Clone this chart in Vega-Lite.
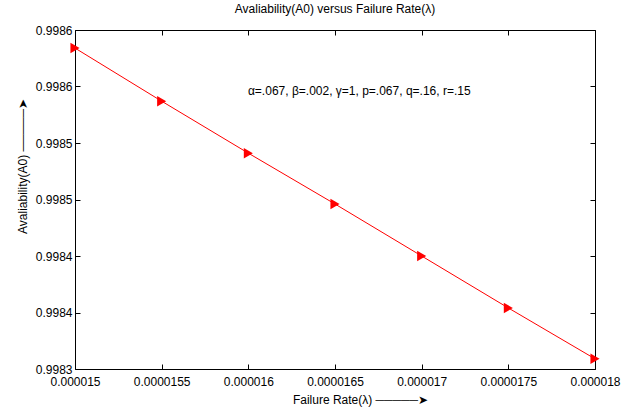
{
  "$schema": "https://vega.github.io/schema/vega-lite/v6.json",
  "autosize": "none",
  "padding": {"left": 75, "top": 30, "right": 40, "bottom": 41},
  "width": 520,
  "height": 339,
  "background": "white",
  "config": {
    "font": "Liberation Sans",
    "view": {"stroke": "black", "strokeWidth": 1},
    "axis": {
      "grid": false,
      "domain": false,
      "ticks": true,
      "tickColor": "black",
      "tickOpacity": 1,
      "tickSize": 5,
      "tickWidth": 1,
      "labelFlush": false,
      "labelFont": "Liberation Sans",
      "labelFontSize": 12,
      "labelColor": "black",
      "titleFont": "Liberation Sans",
      "titleFontSize": 12,
      "titleFontWeight": "normal",
      "titleColor": "black"
    }
  },
  "title": {
    "text": "Avaliability(A0) versus Failure Rate(λ)",
    "font": "Liberation Sans",
    "fontSize": 12,
    "fontWeight": "normal",
    "color": "black",
    "anchor": "middle",
    "offset": 8
  },
  "datasets": {
    "avail": [
      {"rate": 0.0000150, "A0": 0.998584},
      {"rate": 0.0000155, "A0": 0.998537},
      {"rate": 0.0000160, "A0": 0.998491},
      {"rate": 0.0000165, "A0": 0.998446},
      {"rate": 0.0000170, "A0": 0.998400},
      {"rate": 0.0000175, "A0": 0.998354},
      {"rate": 0.0000180, "A0": 0.998309}
    ],
    "note": [
      {"rate": 0.00001664, "A0": 0.998546, "label": "α=.067, β=.002, γ=1, p=.067, q=.16, r=.15"}
    ]
  },
  "resolve": {"axis": {"x": "independent", "y": "independent"}},
  "layer": [
    {
      "data": {"name": "avail"},
      "mark": {"type": "line", "color": "#ff0000", "strokeWidth": 1, "clip": false},
      "encoding": {
        "x": {
          "field": "rate",
          "type": "quantitative",
          "scale": {"domain": [0.000015, 0.000018], "nice": false, "zero": false},
          "axis": {
            "values": [0.000015, 0.0000155, 0.000016, 0.0000165, 0.000017, 0.0000175, 0.000018],
            "format": ".7~f",
            "ticks": false,
            "labelPadding": 7,
            "title": "Failure Rate(λ)   ─────➤",
            "titleX": 285,
            "titlePadding": 7
          }
        },
        "y": {
          "field": "A0",
          "type": "quantitative",
          "scale": {"domain": [0.9983, 0.9986], "nice": false, "zero": false},
          "axis": {
            "values": [0.9983, 0.99835, 0.9984, 0.99845, 0.9985, 0.99855, 0.9986],
            "labelExpr": "format(datum.value + 0.000000001, '.4f')",
            "ticks": false,
            "labelPadding": 3,
            "title": "Avaliability(A0)   ─────➤",
            "titleY": 136,
            "titlePadding": 6
          }
        }
      }
    },
    {
      "data": {"name": "avail"},
      "mark": {"type": "point", "opacity": 0},
      "encoding": {
        "x": {
          "field": "rate",
          "type": "quantitative",
          "axis": {
            "orient": "top",
            "offset": -5,
            "values": [0.000015, 0.0000155, 0.000016, 0.0000165, 0.000017, 0.0000175, 0.000018],
            "labels": false,
            "title": null
          }
        },
        "y": {
          "field": "A0",
          "type": "quantitative",
          "axis": {
            "orient": "right",
            "offset": -5,
            "values": [0.9983, 0.99835, 0.9984, 0.99845, 0.9985, 0.99855, 0.9986],
            "labels": false,
            "title": null
          }
        }
      }
    },
    {
      "data": {"name": "avail"},
      "mark": {"type": "point", "shape": "triangle-right", "filled": true, "color": "#ff0000", "opacity": 1, "size": 110, "clip": false},
      "encoding": {
        "x": {
          "field": "rate",
          "type": "quantitative",
          "axis": {
            "orient": "bottom",
            "offset": -5,
            "values": [0.000015, 0.0000155, 0.000016, 0.0000165, 0.000017, 0.0000175, 0.000018],
            "labels": false,
            "title": null
          }
        },
        "y": {
          "field": "A0",
          "type": "quantitative",
          "axis": {
            "orient": "left",
            "offset": -5,
            "values": [0.9983, 0.99835, 0.9984, 0.99845, 0.9985, 0.99855, 0.9986],
            "labels": false,
            "title": null
          }
        }
      }
    },
    {
      "data": {"name": "note"},
      "mark": {"type": "text", "font": "Liberation Sans", "fontSize": 12, "color": "black", "align": "center", "baseline": "middle"},
      "encoding": {
        "x": {"field": "rate", "type": "quantitative", "axis": null},
        "y": {"field": "A0", "type": "quantitative", "axis": null},
        "text": {"field": "label"}
      }
    }
  ]
}
